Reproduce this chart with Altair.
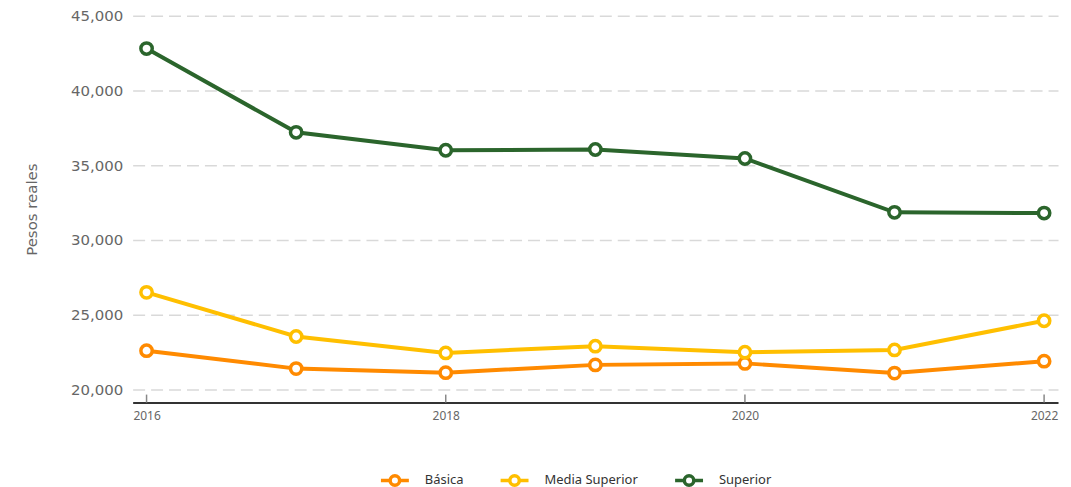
import altair as alt
import pandas as pd

years = [2016, 2017, 2018, 2019, 2020, 2021, 2022]
basica = [22600, 21400, 21130, 21650, 21750, 21100, 21900]
media_superior = [26500, 23550, 22450, 22900, 22500, 22650, 24600]
superior = [42800, 37200, 36000, 36050, 35450, 31850, 31800]
series_names = ["Básica", "Media Superior", "Superior"]
series_colors = ["#ff8a00", "#ffbf00", "#2b652c"]
tick_years = [2016, 2018, 2020, 2022]

rows = []
for name, vals in zip(series_names, [basica, media_superior, superior]):
    for y, v in zip(years, vals):
        rows.append({"Año": y, "Nivel": name, "Pesos": v})
df = pd.DataFrame(rows)
ticks_df = pd.DataFrame({"Año": tick_years})

FONT = "Noto Sans"
YFONT = "DejaVu Sans"
W, H = 928, 388
xscale = alt.Scale(domain=[2015.907, 2022.093], nice=False, zero=False)
yscale = alt.Scale(domain=[19130, 45000], nice=False, zero=False)

legend_path = ("M-1,0H-0.34M0.34,0H1M0.34,0A0.34,0.34 0 1,1 -0.34,0"
               "A0.34,0.34 0 1,1 0.34,0")

color = alt.Color(
    "Nivel:N",
    scale=alt.Scale(domain=series_names, range=series_colors),
    legend=alt.Legend(
        title=None, orient="none", direction="horizontal",
        legendX=247, legendY=450,
        symbolType=legend_path, symbolSize=784, symbolStrokeWidth=3.5,
        symbolFillColor="white", labelFont=FONT, labelFontSize=13,
        labelColor="#333333", labelOffset=14, columnPadding=30,
    ),
)

base = alt.Chart(df).encode(
    x=alt.X("Año:Q", scale=xscale,
            axis=alt.Axis(values=tick_years, format="d", title=None, grid=False,
                          domainColor="#333333", domainWidth=2, ticks=False,
                          labelFont=FONT, labelFontSize=12, labelColor="#666666",
                          labelPadding=8)),
    y=alt.Y("Pesos:Q", scale=yscale,
            axis=alt.Axis(values=[20000, 25000, 30000, 35000, 40000, 45000],
                          format=",d", title="Pesos reales", domain=False, ticks=False,
                          gridDash=[12, 6], gridColor="#d9d9d9", gridWidth=1.5,
                          labelFont=YFONT, labelFontSize=15, labelColor="#666666",
                          labelPadding=10, titleFont=YFONT, titleFontSize=15,
                          titleColor="#666666", titleFontWeight="normal",
                          titlePadding=31)),
    color=color,
)

lines = base.mark_line(strokeWidth=4)
points = base.mark_point(filled=False, fill="white", fillOpacity=1, size=130,
                         strokeWidth=3.5, opacity=1)

xticks = alt.Chart(ticks_df).mark_rule(color="#888888", strokeWidth=1.5).encode(
    x=alt.X("Año:Q", scale=xscale),
    y=alt.value(H - 8),
    y2=alt.value(H),
)

chart = alt.layer(lines, points, xticks).properties(
    width=W, height=H, background="white",
    padding={"left": 16, "top": 0, "right": 5, "bottom": 0}
).configure_view(strokeWidth=0)

chart.save("out.html", embed_options={"renderer": "svg", "actions": False})
